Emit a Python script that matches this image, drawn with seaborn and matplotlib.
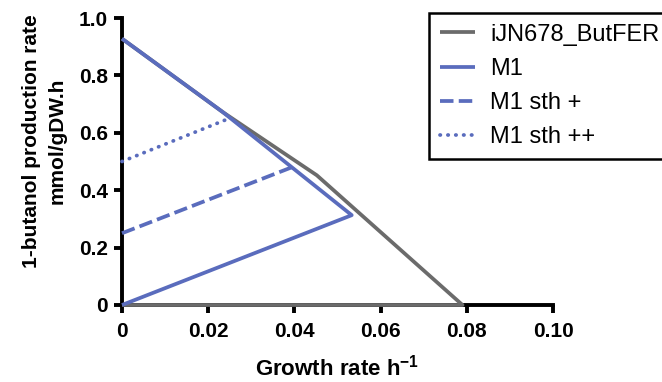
import matplotlib
matplotlib.use("Agg")
import matplotlib.pyplot as plt
import seaborn as sns

sns.set_style("ticks")
plt.rcParams["font.family"] = ["Liberation Sans", "DejaVu Sans"]
plt.rcParams["mathtext.fontset"] = "custom"
plt.rcParams["mathtext.bf"] = "Liberation Sans:bold"
plt.rcParams["mathtext.rm"] = "Liberation Sans:bold"

# production envelopes (growth rate, 1-butanol rate)
wt_x = [0, 0.0234, 0.0452, 0.079, 0]
wt_y = [0.928, 0.672, 0.452, 0, 0]
m1_x = [0, 0.0234, 0.0533, 0]
m1_y = [0.928, 0.672, 0.313, 0]
sth1_x = [0, 0.0396]
sth1_y = [0.25, 0.481]
sth2_x = [0, 0.0242]
sth2_y = [0.50, 0.646]

xticks = [0, 0.02, 0.04, 0.06, 0.08, 0.10]
xtick_labels = ["0", "0.02", "0.04", "0.06", "0.08", "0.10"]
yticks = [0, 0.2, 0.4, 0.6, 0.8, 1.0]
ytick_labels = ["0", "0.2", "0.4", "0.6", "0.8", "1.0"]

gray = "#6b6b6b"
blue = "#5a6cbd"
lw = 2.7

fig = plt.figure(figsize=(6.62, 3.82), dpi=100)
ax = fig.add_axes([122/662, 1 - 305/382, 431/662, 287/382])

sns.lineplot(x=wt_x, y=wt_y, sort=False, estimator=None, color=gray, lw=lw,
             label="iJN678_ButFER", ax=ax)
sns.lineplot(x=m1_x, y=m1_y, sort=False, estimator=None, color=blue, lw=lw,
             label="M1", ax=ax)
sns.lineplot(x=sth1_x, y=sth1_y, sort=False, estimator=None, color=blue, lw=lw,
             label="M1 sth +", ax=ax)
sns.lineplot(x=sth2_x, y=sth2_y, sort=False, estimator=None, color=blue, lw=lw,
             label="M1 sth ++", ax=ax)
lines = ax.get_lines()
for ln in lines:
    ln.set_zorder(3)
    ln.set_clip_on(False)
    ln.set_solid_capstyle("butt")
lines[2].set_dashes([3.6, 1.4])
lines[3].set_dashes([0.1, 2.0])
lines[3].set_dash_capstyle("round")

ax.set_xlim(0, 0.10)
ax.set_ylim(0, 1.0)
ax.set_xticks(xticks)
ax.set_xticklabels(xtick_labels)
ax.set_yticks(yticks)
ax.set_yticklabels(ytick_labels)
ax.tick_params(width=2.8, length=6, labelsize=15, colors="black")
ax.tick_params(axis="x", pad=6)
ax.tick_params(axis="y", pad=4)
for s in ["left", "bottom"]:
    ax.spines[s].set_linewidth(2.8)
    ax.spines[s].set_color("black")
sns.despine(ax=ax)
for lab in ax.get_xticklabels() + ax.get_yticklabels():
    lab.set_fontweight("bold")

ax.set_xlabel("Growth rate h$^{-1}$", fontsize=16, fontweight="bold", labelpad=10,
              color="black")
ax.set_ylabel("1-butanol production rate\nmmol/gDW.h", fontsize=15, fontweight="bold",
              linespacing=1.45, color="black")
ax.yaxis.set_label_coords((67 - 122) / 431, 0.571)

leg = ax.legend(loc="upper left", bbox_to_anchor=(429/662, 1 - 13/382),
                bbox_transform=fig.transFigure, frameon=True, fancybox=False,
                fontsize=17, handlelength=1.5, handletextpad=0.65, borderpad=0.45,
                labelspacing=0.52, borderaxespad=0)
leg.get_frame().set_edgecolor("black")
leg.get_frame().set_linewidth(1.8)
leg.get_frame().set_alpha(1)
for t in leg.get_texts():
    t.set_color("black")

fig.savefig("out.png", dpi=100)
